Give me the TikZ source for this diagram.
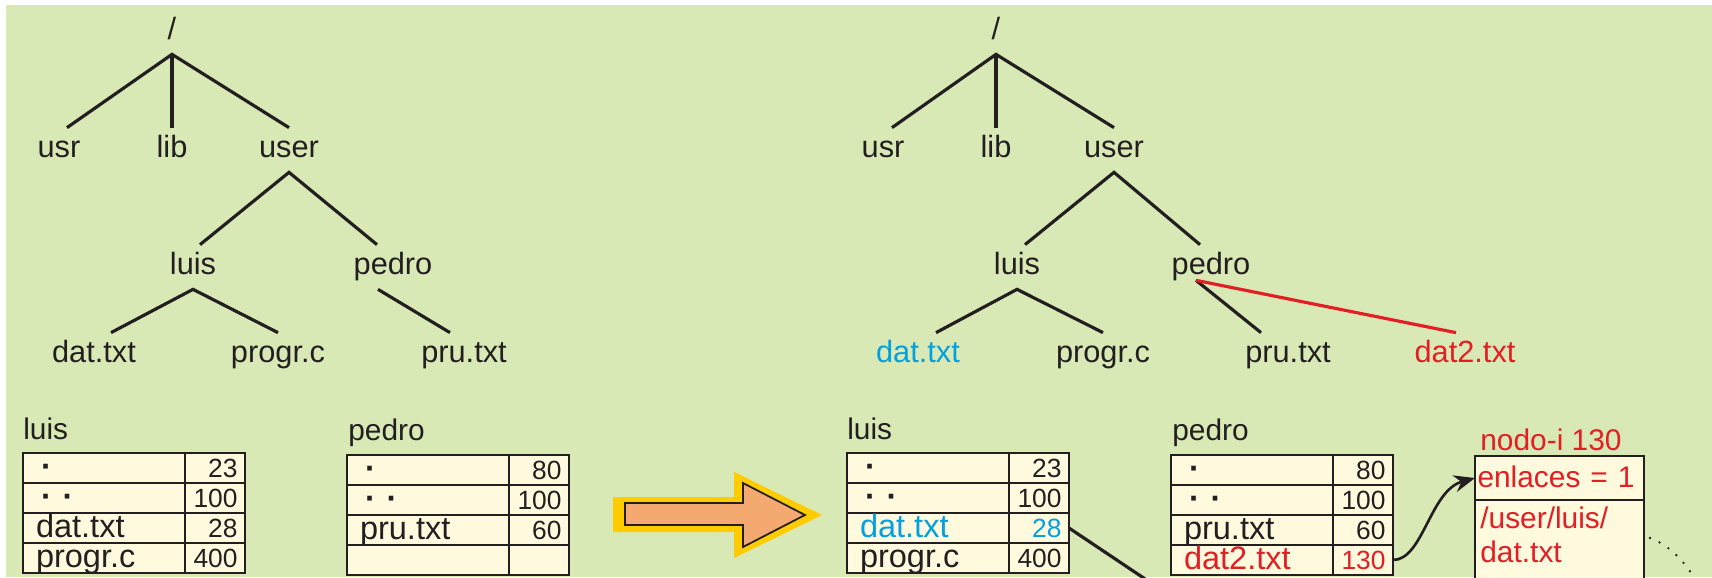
\documentclass[tikz,border=0pt]{standalone}
\usepackage{fontspec}
\setmainfont{Liberation Sans}
\usetikzlibrary{positioning,calc,arrows.meta}

\definecolor{bggreen}{RGB}{217,233,182}
\definecolor{cream}{RGB}{255,250,222}
\definecolor{ink}{RGB}{35,31,32}
\definecolor{linkred}{RGB}{227,30,36}
\definecolor{oldblue}{RGB}{0,160,227}
\definecolor{arrowgold}{RGB}{255,204,0}
\definecolor{arrowpeach}{RGB}{243,169,112}

\begin{document}
\begin{tikzpicture}[
  on grid,
  dirnode/.style={inner sep=0pt, minimum height=.88cm, text height=.43cm, text depth=.13cm, text=ink, font=\fontsize{17.5}{20}\selectfont},
  branch/.style={ink, line width=1.8pt},
  namecell/.style={draw=ink, fill=cream, line width=1.1pt, outer sep=0pt, inner ysep=0pt, minimum width=3.24cm, minimum height=.6cm, text width=2.72cm, inner xsep=.26cm, align=left, text height=.46cm, text depth=.1cm, text=ink, font=\fontsize{18.5}{20}\selectfont},
  numcell/.style={namecell, minimum width=1.2cm, text width=.9cm, inner xsep=.15cm, align=right, font=\fontsize{15}{16}\selectfont},
  inodecell/.style={namecell, minimum width=3.38cm, minimum height=.88cm, text width=3.28cm, inner xsep=.05cm, text=linkred, font=\fontsize{17}{20}\selectfont},
  lbl/.style={anchor=base west, inner sep=0pt, text=ink, font=\fontsize{17}{20}\selectfont},
]
  \useasboundingbox (0,0) rectangle (34.24,11.54);
  \fill[bggreen] (.12,0) rectangle (34.24,11.44);

  \node[dirnode] (root1) at (3.44,10.90) {/};
  \node[dirnode, below left=2.36cm and 2.26cm of root1] (usr1) {usr};
  \node[dirnode, below=2.36cm of root1] (lib1) {lib};
  \node[dirnode, below right=2.36cm and 2.34cm of root1] (user1) {user};
  \node[dirnode, below left=2.34cm and 1.92cm of user1] (luis1) {luis};
  \node[dirnode, below right=2.34cm and 2.08cm of user1] (pedro1) {pedro};
  \node[dirnode, below left=1.76cm and 1.98cm of luis1] (dat1) {dat.txt};
  \node[dirnode, below right=1.76cm and 1.70cm of luis1] (progr1) {progr.c};
  \node[dirnode, below right=1.76cm and 1.42cm of pedro1] (pru1) {pru.txt};

  \draw[branch] ([xshift=.16cm]usr1.north) -- (root1.south) -- (user1.north);
  \draw[branch] (root1.south) -- (lib1.north);
  \draw[branch] ([xshift=.14cm]luis1.north) -- (user1.south) -- ([xshift=-.32cm]pedro1.north);
  \draw[branch] ([xshift=.34cm]dat1.north) -- (luis1.south) -- (progr1.north);
  \draw[branch] ([xshift=-.3cm]pedro1.south) -- ([xshift=-.28cm]pru1.north);

  \node[dirnode] (root2) at (19.92,10.90) {/};
  \node[dirnode, below left=2.36cm and 2.26cm of root2] (usr2) {usr};
  \node[dirnode, below=2.36cm of root2] (lib2) {lib};
  \node[dirnode, below right=2.36cm and 2.36cm of root2] (user2) {user};
  \node[dirnode, below left=2.34cm and 1.94cm of user2] (luis2) {luis};
  \node[dirnode, below right=2.34cm and 1.94cm of user2] (pedro2) {pedro};
  \node[dirnode, text=oldblue, below left=1.76cm and 1.98cm of luis2] (dat2) {dat.txt};
  \node[dirnode, below right=1.76cm and 1.72cm of luis2] (progr2) {progr.c};
  \node[dirnode, below right=1.76cm and 1.54cm of pedro2] (pru2) {pru.txt};
  \node[dirnode, text=linkred, below right=1.76cm and 5.08cm of pedro2] (link2) {dat2.txt};

  \draw[branch] ([xshift=.18cm]usr2.north) -- (root2.south) -- (user2.north);
  \draw[branch] (root2.south) -- (lib2.north);
  \draw[branch] ([xshift=.16cm]luis2.north) -- (user2.south) -- ([xshift=-.22cm]pedro2.north);
  \draw[branch] ([xshift=.36cm]dat2.north) -- (luis2.south) -- (progr2.north);
  \draw[branch] ([xshift=-.3cm,yshift=.18cm]pedro2.south) -- ([xshift=-.54cm]pru2.north);
  \draw[branch, linkred] ([xshift=-.3cm,yshift=.18cm]pedro2.south) -- ([xshift=-.18cm]link2.north);

  \node[namecell] (l1n1) at (2.08,2.18) {\hspace*{.1cm}\textbf{·}};
  \node[namecell, below=.6cm of l1n1] (l1n2) {\hspace*{.1cm}\textbf{· ·}};
  \node[namecell, below=.6cm of l1n2] (l1n3) {dat.txt};
  \node[namecell, below=.6cm of l1n3] (l1n4) {progr.c};
  \node[numcell, right=2.22cm of l1n1] (l1v1) {23};
  \node[numcell, right=2.22cm of l1n2] (l1v2) {100};
  \node[numcell, right=2.22cm of l1n3] (l1v3) {28};
  \node[numcell, right=2.22cm of l1n4] (l1v4) {400};
  \node[lbl] (l1lbl) at ($(l1n1.north west)+(0,.28)$) {luis};

  \node[namecell] (p1n1) at (8.56,2.14) {\hspace*{.1cm}\textbf{·}};
  \node[namecell, below=.6cm of p1n1] (p1n2) {\hspace*{.1cm}\textbf{· ·}};
  \node[namecell, below=.6cm of p1n2] (p1n3) {pru.txt};
  \node[namecell, below=.6cm of p1n3] (p1n4) {};
  \node[numcell, right=2.22cm of p1n1] (p1v1) {80};
  \node[numcell, right=2.22cm of p1n2] (p1v2) {100};
  \node[numcell, right=2.22cm of p1n3] (p1v3) {60};
  \node[numcell, right=2.22cm of p1n4] (p1v4) {};
  \node[lbl] (p1lbl) at ($(p1n1.north west)+(.02,.3)$) {pedro};

  \fill[arrowgold] (12.26,1.60) -- (14.68,1.60) -- (14.68,2.10) -- (16.44,1.24) -- (14.68,.38) -- (14.68,.90) -- (12.26,.90) -- cycle;
  \filldraw[fill=arrowpeach, draw=ink, line width=1pt] (12.50,1.48) -- (14.86,1.48) -- (14.86,1.88) -- (16.10,1.24) -- (14.86,.60) -- (14.86,1.04) -- (12.50,1.04) -- cycle;

  \node[namecell] (l2n1) at (18.56,2.18) {\hspace*{.1cm}\textbf{·}};
  \node[namecell, below=.6cm of l2n1] (l2n2) {\hspace*{.1cm}\textbf{· ·}};
  \node[namecell, text=oldblue, below=.6cm of l2n2] (l2n3) {dat.txt};
  \node[namecell, below=.6cm of l2n3] (l2n4) {progr.c};
  \node[numcell, right=2.22cm of l2n1] (l2v1) {23};
  \node[numcell, right=2.22cm of l2n2] (l2v2) {100};
  \node[numcell, text=oldblue, right=2.22cm of l2n3] (l2v3) {28};
  \node[numcell, right=2.22cm of l2n4] (l2v4) {400};
  \node[lbl] (l2lbl) at ($(l2n1.north west)+(0,.28)$) {luis};

  \node[namecell] (p2n1) at (25.04,2.14) {\hspace*{.1cm}\textbf{·}};
  \node[namecell, below=.6cm of p2n1] (p2n2) {\hspace*{.1cm}\textbf{· ·}};
  \node[namecell, below=.6cm of p2n2] (p2n3) {pru.txt};
  \node[namecell, text=linkred, below=.6cm of p2n3] (p2n4) {dat2.txt};
  \node[numcell, right=2.22cm of p2n1] (p2v1) {80};
  \node[numcell, right=2.22cm of p2n2] (p2v2) {100};
  \node[numcell, right=2.22cm of p2n3] (p2v3) {60};
  \node[numcell, text=linkred, right=2.22cm of p2n4] (p2v4) {130};
  \node[lbl] (p2lbl) at ($(p2n1.north west)+(.02,.3)$) {pedro};

  \node[inodecell, below right=.16cm and 6.15cm of p2n1] (enl) {enlaces = 1};
  \node[inodecell, minimum height=2cm, below=1.44cm of enl] (low) {};
  \node[anchor=north west, inner sep=0pt, align=left, text=linkred, font=\fontsize{17}{19.4}\selectfont] (ruta) at ($(low.north west)+(.1,-.12)$) {/user/luis/\\dat.txt};
  \node[lbl, text=linkred] (ilbl) at ($(enl.north west)+(.1,.12)$) {nodo-i 130};

  \coordinate (cut1) at (23.44,-.40);
  \coordinate (dotend) at (34.05,-.35);
  \draw[branch] (l2v3.east) -- (cut1);
  \draw[ink, line width=1.5pt, -{Stealth[length=.42cm, width=.34cm]}] (p2v4.east) .. controls +(.6,0) and +(-.9,-.25) .. (enl.west);
  \draw[ink, line width=1.5pt, line cap=round, dash pattern=on 0pt off 6pt] ([xshift=.12cm]$(low.north east)!.38!(low.south east)$) .. controls +(.45,-.16) and +(-.2,.5) .. (dotend);
\end{tikzpicture}
\end{document}
